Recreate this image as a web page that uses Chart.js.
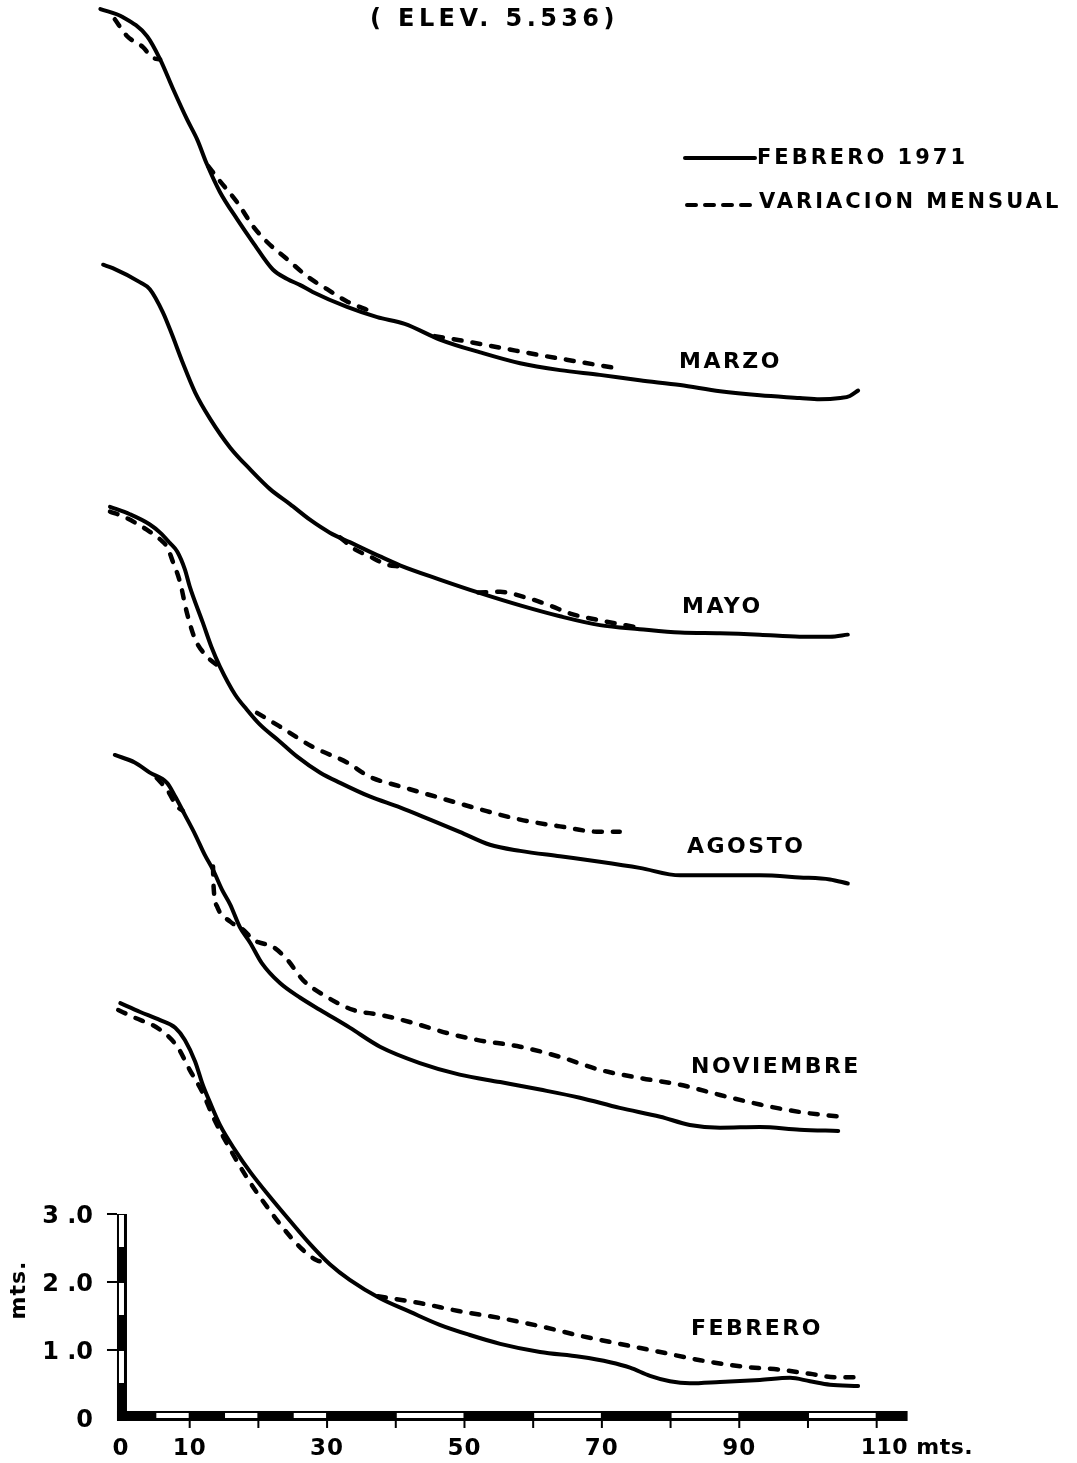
<!DOCTYPE html>
<html>
<head>
<meta charset="utf-8">
<script src="https://cdn.jsdelivr.net/npm/chart.js@4.4.0/dist/chart.umd.min.js"></script>
<style>
html,body{margin:0;padding:0;background:#fff;}
#wrap{position:relative;width:1077px;height:1463px;overflow:hidden;background:#fff;}
#c{position:absolute;left:0;top:0;}
.t{position:absolute;font-family:"DejaVu Sans",sans-serif;font-weight:bold;color:#000;white-space:nowrap;line-height:1;}
</style>
</head>
<body>
<div id="wrap"><canvas id="c" width="1077" height="1463"></canvas></div>
<script>
// ---------- DATA (distance in m, elevation in m) ----------
const monthLabels = ['MARZO', 'MAYO', 'AGOSTO', 'NOVIEMBRE', 'FEBRERO'];
const legendLabels = ['FEBRERO 1971', 'VARIACION MENSUAL'];
const titleText = '( ELEV. 5.536)';

const marzoDist = [-3.0, 0.3, 3.8, 5.7, 7.6, 9.6, 11.1, 12.5, 14.4, 16.9, 19.2, 22.1, 24.2, 26.1, 27.9, 32.9, 37.3, 41.3, 46.4, 52.3, 58.1, 63.9, 69.7, 75.5, 81.4, 87.2, 93.0, 98.8, 101.7, 104.7, 106.1, 107.3];
const marzoElev = [6.12, 6.00, 5.72, 5.38, 4.94, 4.50, 4.20, 3.84, 3.43, 3.03, 2.69, 2.29, 2.15, 2.06, 1.96, 1.74, 1.59, 1.49, 1.26, 1.07, 0.91, 0.81, 0.74, 0.66, 0.59, 0.50, 0.44, 0.40, 0.38, 0.40, 0.43, 0.51];
const marzoVarDist = [-0.9, 0.9, 3.2, 4.5, 5.7, 9.0, 12.7, 14.4, 16.9, 19.2, 21.3, 24.2, 27.1, 30.0, 32.9, 35.5, 37.0, 41.0, 45.7, 49.3, 55.2, 61.0, 66.8, 72.6];
const marzoVarElev = [5.97, 5.72, 5.56, 5.41, 5.38, null, 3.81, 3.59, 3.28, 2.93, 2.69, 2.44, 2.19, 2.00, 1.82, 1.71, 1.65, null, 1.31, 1.25, 1.14, 1.03, 0.93, 0.83];

const mayoDist = [-2.6, -1.2, 2.8, 4.2, 6.1, 7.4, 8.9, 10.8, 13.0, 15.9, 18.8, 21.7, 24.6, 27.5, 30.4, 33.3, 37.7, 40.6, 46.4, 52.3, 58.1, 63.9, 69.7, 75.5, 81.4, 87.2, 93.0, 98.8, 103.2, 105.8];
const mayoElev = [6.01, 5.96, 5.75, 5.65, 5.31, 4.99, 4.59, 4.13, 3.74, 3.32, 3.00, 2.71, 2.49, 2.26, 2.07, 1.93, 1.72, 1.59, 1.38, 1.18, 1.00, 0.84, 0.71, 0.65, 0.60, 0.59, 0.57, 0.54, 0.54, 0.57];
const mayoVarDist = [31.9, 33.8, 36.2, 38.7, 40.6, 46.0, 52.0, 55.2, 58.8, 62.4, 65.4, 69.7, 75.5];
const mayoVarElev = [2.00, 1.84, 1.72, 1.60, 1.57, null, 1.19, 1.20, 1.12, 1.00, 0.88, 0.78, 0.67];

const agostoDist = [-1.6, 1.3, 4.2, 5.7, 7.1, 8.2, 9.3, 10.0, 11.9, 13.2, 14.4, 16.6, 18.3, 20.2, 23.1, 25.6, 29.0, 31.9, 36.2, 40.6, 45.0, 49.3, 53.7, 58.1, 63.9, 69.7, 75.5, 81.4, 87.2, 93.0, 98.8, 103.2, 105.8];
const agostoElev = [6.10, 5.99, 5.84, 5.72, 5.57, 5.44, 5.18, 4.93, 4.40, 4.03, 3.75, 3.34, 3.12, 2.90, 2.65, 2.43, 2.19, 2.04, 1.84, 1.68, 1.50, 1.32, 1.13, 1.04, 0.96, 0.88, 0.79, 0.68, 0.68, 0.68, 0.65, 0.62, 0.56];
const agostoVarDist = [-1.6, 0.3, 3.8, 5.7, 6.7, 7.6, 8.6, 9.6, 10.8, 12.5, 14.4, 17.0, 19.8, 23.1, 27.9, 32.9, 36.2, 40.6, 46.4, 52.3, 58.1, 63.9, 69.7, 72.6];
const agostoVarElev = [6.03, 5.96, 5.76, 5.62, 5.51, 5.28, 4.99, 4.54, 4.15, 3.90, 3.74, null, 3.07, 2.87, 2.57, 2.34, 2.13, 1.99, 1.82, 1.65, 1.50, 1.40, 1.32, 1.32];

const noviembreDist = [-0.9, 2.0, 4.2, 6.7, 7.9, 9.3, 10.8, 12.2, 13.4, 14.7, 15.9, 17.3, 18.8, 20.5, 23.1, 26.1, 29.0, 33.3, 37.7, 43.5, 49.3, 55.2, 61.0, 66.8, 72.6, 78.5, 82.8, 87.2, 93.0, 98.8, 104.4];
const noviembreElev = [6.10, 5.99, 5.84, 5.69, 5.49, 5.22, 4.93, 4.63, 4.41, 4.12, 3.90, 3.57, 3.34, 3.04, 2.75, 2.53, 2.35, 2.09, 1.81, 1.57, 1.40, 1.29, 1.18, 1.06, 0.91, 0.78, 0.66, 0.62, 0.63, 0.59, 0.57];
const noviembreVarDist = [5.2, 6.7, 8.2, 9.0, 11.0, 13.4, 13.45, 14.0, 15.9, 17.8, 19.3, 20.2, 22.1, 24.2, 26.5, 30.0, 33.8, 37.7, 42.5, 47.5, 51.8, 58.1, 63.9, 69.7, 75.5, 81.4, 87.2, 93.0, 98.8, 104.7];
const noviembreVarElev = [5.76, 5.59, 5.34, 5.28, null, 4.46, 4.22, 3.87, 3.65, 3.53, 3.38, 3.34, 3.28, 3.09, 2.79, 2.54, 2.35, 2.28, 2.16, 2.01, 1.91, 1.81, 1.66, 1.47, 1.35, 1.25, 1.10, 0.96, 0.85, 0.78];

const febreroDist = [-0.1, 2.8, 5.7, 7.9, 9.3, 10.8, 11.9, 13.0, 14.4, 16.6, 18.8, 21.7, 24.6, 27.5, 30.4, 33.3, 37.7, 42.1, 46.4, 50.8, 55.2, 61.0, 66.8, 71.2, 74.1, 77.0, 79.9, 82.8, 87.2, 93.0, 97.4, 100.3, 103.2, 107.3];
const febreroElev = [6.10, 5.97, 5.85, 5.74, 5.56, 5.24, 4.90, 4.63, 4.31, 3.94, 3.62, 3.25, 2.90, 2.56, 2.26, 2.03, 1.76, 1.56, 1.37, 1.22, 1.09, 0.97, 0.90, 0.82, 0.74, 0.62, 0.54, 0.51, 0.53, 0.56, 0.59, 0.54, 0.49, 0.47];
const febreroVarDist = [-0.4, 1.7, 5.7, 8.2, 10.0, 11.9, 13.4, 15.4, 18.3, 21.3, 24.2, 26.5, 28.5, 30.0, 34.0, 37.4, 43.5, 49.3, 55.2, 61.0, 66.8, 72.6, 78.5, 84.3, 90.1, 95.9, 100.3, 103.9, 107.3];
const febreroVarElev = [6.00, 5.90, 5.71, 5.46, 5.12, 4.78, 4.43, 4.04, 3.54, 3.10, 2.72, 2.47, 2.32, 2.29, null, 1.79, 1.69, 1.57, 1.47, 1.35, 1.21, 1.09, 0.97, 0.85, 0.76, 0.71, 0.65, 0.60, 0.60];

// vertical stacking of the profiles (in m of the drawing)
const stackStep = 3.65;
const stackIndex = [4, 3, 2, 1, 0];

// axes
const xTickValues = [10, 20, 30, 40, 50, 60, 70, 80, 90, 100, 110];
const xLabelValues = [0, 10, 30, 50, 70, 90, 110];
const xLabelTexts = ['0', '10', '30', '50', '70', '90', '110 mts.'];
const xBarBreaks = [0, 5, 10, 15, 20, 25, 30, 40, 50, 60, 70, 80, 90, 100, 110];
const xBarEnd = 114.5;
const yTickValues = [1, 2, 3];
const yLabelValues = [0, 1, 2, 3];
const yLabelTexts = ['0', '1 .0', '2 .0', '3 .0'];
const yBarBreaks = [0, 0.5, 1, 1.5, 2, 2.5, 3];

// ---------- BUILD ----------
const profiles = [
  [marzoDist, marzoElev, marzoVarDist, marzoVarElev],
  [mayoDist, mayoElev, mayoVarDist, mayoVarElev],
  [agostoDist, agostoElev, agostoVarDist, agostoVarElev],
  [noviembreDist, noviembreElev, noviembreVarDist, noviembreVarElev],
  [febreroDist, febreroElev, febreroVarDist, febreroVarElev]
];
function pts(dist, elev, off) {
  return dist.map((d, i) => ({ x: d, y: elev[i] === null ? null : elev[i] + off }));
}
const datasets = [];
profiles.forEach((p, k) => {
  const off = stackIndex[k] * stackStep;
  datasets.push({
    label: monthLabels[k] + ' - ' + legendLabels[0],
    data: pts(p[0], p[1], off),
    borderColor: '#000', borderWidth: 4, pointRadius: 0, cubicInterpolationMode: 'monotone',
    borderCapStyle: 'round', borderJoinStyle: 'round', spanGaps: false, fill: false
  });
  datasets.push({
    label: monthLabels[k] + ' - ' + legendLabels[1],
    data: pts(p[2], p[3], off),
    borderColor: '#000', borderWidth: 4.5, pointRadius: 0, cubicInterpolationMode: 'monotone',
    borderDash: [8, 11], borderCapStyle: 'round', borderJoinStyle: 'round', spanGaps: false, fill: false
  });
});

const axisPlugin = {
  id: 'profileAxes',
  afterDatasetsDraw(chart) {
    const ctx = chart.ctx, x = chart.scales.x, y = chart.scales.y;
    const px = v => x.getPixelForValue(v), py = v => y.getPixelForValue(v);
    const x0 = px(0), y0 = py(0);
    ctx.save();
    ctx.fillStyle = '#000';
    // horizontal scale bar
    const barTop = y0 - 7, barH = 10;
    ctx.fillRect(x0 - 4, barTop, px(xBarEnd) - (x0 - 4), barH);
    for (let i = 1; i < xBarBreaks.length - 1; i += 2) {
      const a = px(xBarBreaks[i]), b = px(xBarBreaks[i + 1]);
      ctx.fillStyle = '#fff';
      ctx.fillRect(a + 1, barTop + 2, b - a - 2, 5);
    }
    // vertical scale bar
    ctx.fillStyle = '#000';
    const yTop = py(3);
    ctx.fillRect(x0 - 4, yTop, 10, barTop + barH - yTop);
    for (let i = 1; i < yBarBreaks.length - 1; i += 2) {
      const a = py(yBarBreaks[i]), b = py(yBarBreaks[i + 1]);
      ctx.fillStyle = '#fff';
      ctx.fillRect(x0 - 2, b + 1, 5, a - b - 2);
    }
    ctx.fillStyle = '#000';
    // ticks
    xTickValues.forEach(v => ctx.fillRect(px(v) - 1, barTop + barH, 2, 7));
    yTickValues.forEach(v => ctx.fillRect(x0 - 14, py(v) - 1, 10, 2));
    // legend swatches
    ctx.strokeStyle = '#000';
    ctx.lineWidth = 4;
    ctx.lineCap = 'round';
    ctx.beginPath(); ctx.moveTo(685, 158); ctx.lineTo(755, 158); ctx.stroke();
    ctx.setLineDash([9, 9]);
    ctx.beginPath(); ctx.moveTo(687, 205); ctx.lineTo(755, 205); ctx.stroke();
    ctx.restore();
  }
};

const chart = new Chart(document.getElementById('c'), {
  type: 'line',
  data: { datasets },
  options: {
    responsive: false, animation: false, devicePixelRatio: 1,
    layout: { padding: 0 },
    plugins: { legend: { display: false }, title: { display: false }, tooltip: { enabled: false } },
    scales: {
      x: { type: 'linear', min: -17.61, max: 139.16, display: false },
      y: { type: 'linear', min: -0.662, max: 20.853, display: false }
    }
  },
  plugins: [axisPlugin]
});

// ---------- TEXT ----------
const wrap = document.getElementById('wrap');
function addText(str, left, cy, size, spacing, align, rot) {
  const el = document.createElement('div');
  el.className = 't';
  el.textContent = str;
  el.style.fontSize = size + 'px';
  el.style.letterSpacing = spacing + 'px';
  el.style.left = left + 'px';
  el.style.top = cy + 'px';
  const tx = align === 'center' ? '-50%' : align === 'right' ? '-100%' : '0';
  el.style.transform = 'translate(' + tx + ',-50%)' + (rot ? ' rotate(' + rot + 'deg)' : '');
  wrap.appendChild(el);
  return el;
}
const sx = chart.scales.x, sy = chart.scales.y;
addText(titleText, 370, 18, 24, 4.4, 'left');
addText(legendLabels[0], 757, 157, 21, 3, 'left');
addText(legendLabels[1], 759, 201, 21, 3, 'left');
const monthPos = [[679, 361], [682, 606], [687, 846], [691, 1066], [691, 1328]];
monthLabels.forEach((m, i) => addText(m, monthPos[i][0], monthPos[i][1], 22, 2.5, 'left'));
yLabelValues.forEach((v, i) => addText(yLabelTexts[i], 93, sy.getPixelForValue(v) + 1, 24, 0, 'right'));
xLabelValues.forEach((v, i) => {
  const p = sx.getPixelForValue(v);
  if (i === xLabelValues.length - 1) addText(xLabelTexts[i], p - 16, 1447, 22, 0.5, 'left');
  else addText(xLabelTexts[i], p, 1447, 23, 1, 'center');
});
addText('mts.', 18, 1290, 22, 1, 'center', -90);
</script>
</body>
</html>
